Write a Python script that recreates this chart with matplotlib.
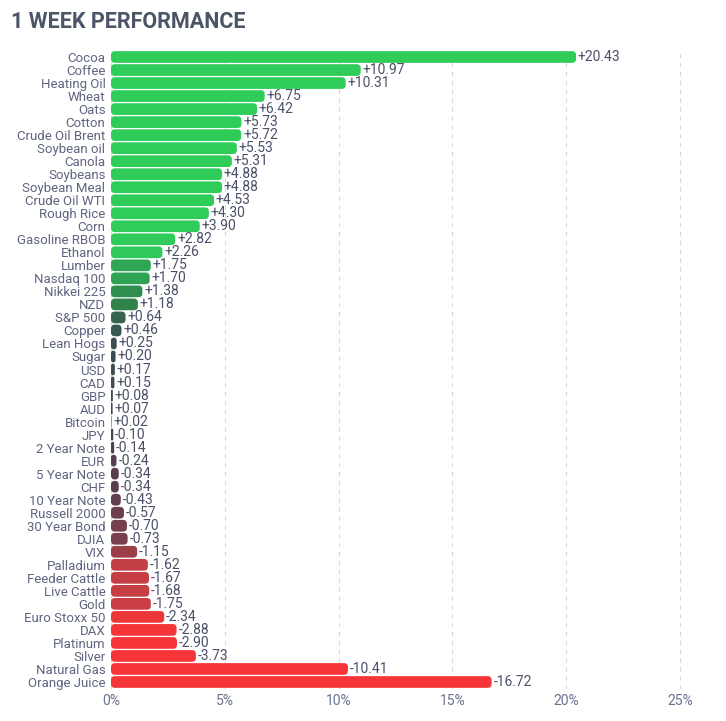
import matplotlib.pyplot as plt
from matplotlib.patches import FancyBboxPatch
from matplotlib.colors import LinearSegmentedColormap
import numpy as np

names = ['Cocoa', 'Coffee', 'Heating Oil', 'Wheat', 'Oats', 'Cotton', 'Crude Oil Brent',
         'Soybean oil', 'Canola', 'Soybeans', 'Soybean Meal', 'Crude Oil WTI', 'Rough Rice',
         'Corn', 'Gasoline RBOB', 'Ethanol', 'Lumber', 'Nasdaq 100', 'Nikkei 225', 'NZD',
         'S&P 500', 'Copper', 'Lean Hogs', 'Sugar', 'USD', 'CAD', 'GBP', 'AUD', 'Bitcoin',
         'JPY', '2 Year Note', 'EUR', '5 Year Note', 'CHF', '10 Year Note', 'Russell 2000',
         '30 Year Bond', 'DJIA', 'VIX', 'Palladium', 'Feeder Cattle', 'Live Cattle', 'Gold',
         'Euro Stoxx 50', 'DAX', 'Platinum', 'Silver', 'Natural Gas', 'Orange Juice']
values = [20.43, 10.97, 10.31, 6.75, 6.42, 5.73, 5.72, 5.53, 5.31, 4.88, 4.88, 4.53, 4.30,
          3.90, 2.82, 2.26, 1.75, 1.70, 1.38, 1.18, 0.64, 0.46, 0.25, 0.20, 0.17, 0.15, 0.08,
          0.07, 0.02, -0.10, -0.14, -0.24, -0.34, -0.34, -0.43, -0.57, -0.70, -0.73, -1.15,
          -1.62, -1.67, -1.68, -1.75, -2.34, -2.88, -2.90, -3.73, -10.41, -16.72]
xticks = [0, 5, 10, 15, 20, 25]

# colour scale, red -> dark gray -> green
lo, hi = -3.0, 3.0
scale = [(-3.0, '#f63538'), (-2.5, '#f63538'), (-1.6, '#c03f45'), (-1.15, '#9b3f49'),
         (-0.7, '#773f4d'), (-0.34, '#5b3c50'), (0.0, '#414554'), (0.25, '#3a4d52'),
         (0.6, '#35604e'), (1.2, '#2f8449'), (1.4, '#2f8f50'), (1.75, '#2ea655'),
         (2.26, '#2fc85a'), (3.0, '#30cc5a')]
cmap = LinearSegmentedColormap.from_list('perf', [((p - lo) / (hi - lo), c) for p, c in scale])

fig = plt.figure(figsize=(7.26, 7.21), dpi=100)
ax = fig.add_axes([111 / 726, 1 - 688.5 / 721, (702.8 - 111) / 726, (688.5 - 50.5) / 721])

n = len(values)
ax.set_xlim(0, 26)
ax.set_ylim(n - 0.5, -0.5)

# pixel scales for rounded corners
xpx = 22.76
ypx = 13.02
r = 4.0
for i, v in enumerate(values):
    w = abs(v)
    c = cmap((np.clip(v, lo, hi) - lo) / (hi - lo))
    h = 0.9
    rs = min(r / xpx, w / 2) if w > 0 else 0
    p = FancyBboxPatch((0, i - h / 2), w, h,
                       boxstyle=f"round,pad=0,rounding_size={rs}",
                       mutation_aspect=xpx / ypx, fc=c, ec='none', zorder=2)
    ax.add_patch(p)
    ax.text(w + 0.08, i, f"{v:+.2f}", va='center', ha='left', fontsize=10,
            color='#4a5068', family='Roboto', zorder=3)

ax.set_yticks(range(n))
ax.set_yticklabels(names, family='Roboto', fontsize=9.5, color='#5e6580')
ax.set_xticks(xticks)
ax.set_xticklabels([f"{t}%" for t in xticks], family='Roboto', fontsize=10, color='#6b7290')
ax.tick_params(length=0, pad=4)
for s in ax.spines.values():
    s.set_visible(False)
ax.grid(axis='x', linestyle=(0, (4, 4)), color='#d8d8d8', linewidth=0.8, zorder=0)
ax.set_axisbelow(True)

fig.text(11 / 726, 1 - 22 / 721, '1 WEEK PERFORMANCE', fontsize=15.5, fontweight='bold',
         color='#4c5468', family='Roboto', va='center', ha='left')

fig.savefig('out.png', dpi=100)
